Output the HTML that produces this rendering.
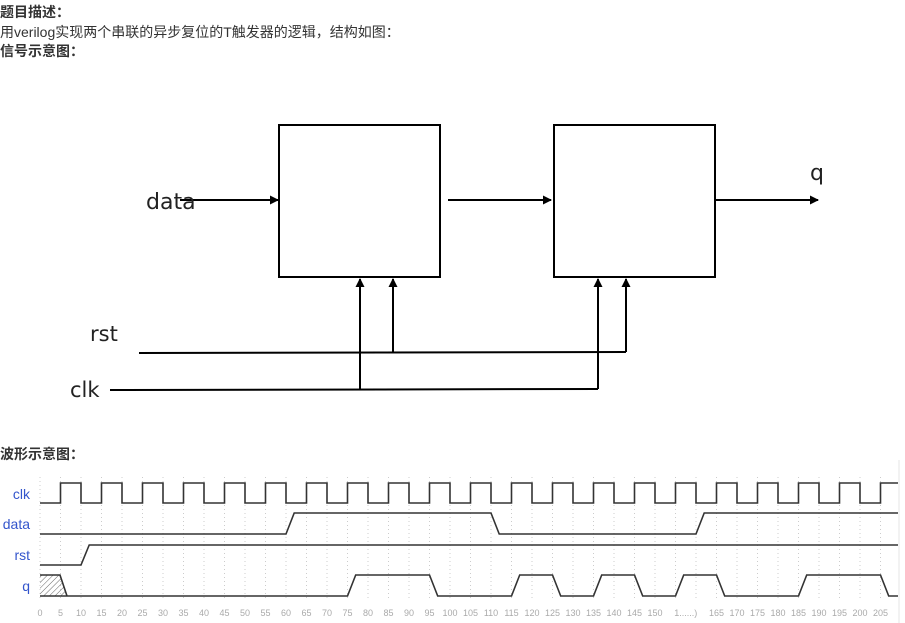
<!DOCTYPE html>
<html><head><meta charset="utf-8"><style>
body{margin:0;width:905px;height:623px;background:#fff;overflow:hidden;position:relative;font-family:"Liberation Sans","Noto Sans CJK SC",sans-serif;}
.t{position:absolute;left:0;font-size:14px;color:#333;line-height:16px;white-space:nowrap}
b{font-weight:bold}
</style></head><body>
<div class="t" style="top:4px"><b>题目描述：</b></div>
<div class="t" style="top:24px">用verilog实现两个串联的异步复位的T触发器的逻辑，结构如图：</div>
<div class="t" style="top:43px"><b>信号示意图：</b></div>
<div class="t" style="top:446px"><b>波形示意图：</b></div>
<svg width="905" height="623" style="position:absolute;left:0;top:0" xmlns="http://www.w3.org/2000/svg">
<defs><marker id="a" markerWidth="9" markerHeight="9" refX="8" refY="4.5" orient="auto" markerUnits="userSpaceOnUse"><path d="M0,0 L9,4.5 L0,9z" fill="#000"/></marker>
<pattern id="h" width="4" height="4" patternUnits="userSpaceOnUse" patternTransform="rotate(45)"><line x1="0" y1="0" x2="0" y2="4" stroke="#666" stroke-width="1"/></pattern></defs>
<g stroke="#000" stroke-width="2" fill="none">
<rect x="279" y="125" width="161" height="152"/>
<rect x="554" y="125" width="161" height="152"/>
<line x1="180" y1="200" x2="278" y2="200" marker-end="url(#a)"/>
<line x1="448" y1="200" x2="551" y2="200" marker-end="url(#a)"/>
<line x1="716" y1="200" x2="818" y2="200" marker-end="url(#a)"/>
<line x1="139" y1="353" x2="626" y2="352"/>
<line x1="110" y1="390" x2="598" y2="389"/>
<line x1="360" y1="390" x2="360" y2="279" marker-end="url(#a)"/>
<line x1="393" y1="353" x2="393" y2="279" marker-end="url(#a)"/>
<line x1="598" y1="389" x2="598" y2="279" marker-end="url(#a)"/>
<line x1="626" y1="352" x2="626" y2="279" marker-end="url(#a)"/>
</g>
<line x1="899" y1="460" x2="899" y2="623" stroke="#e4e4e4" stroke-width="1"/>
<g font-family="'DejaVu Sans',sans-serif" font-size="22" fill="#222">
<text x="146" y="209">data</text>
<text x="810" y="180">q</text>
<text x="90" y="341" font-size="21">rst</text>
<text x="70" y="397" font-size="21">clk</text>
</g>
<g id="grid" stroke="#ccc" stroke-width="1" stroke-dasharray="1,3"></g>
<g font-size="14" fill="#3355cc" text-anchor="end" font-family="'Liberation Sans',sans-serif">
<text x="30" y="499">clk</text><text x="30" y="529">data</text><text x="30" y="560">rst</text><text x="30" y="591">q</text>
</g>
<g id="lbl" font-size="9" fill="#aaa" text-anchor="middle" font-family="'Liberation Sans',sans-serif"></g>
<polygon points="40,575 60,575 67,596 40,596" fill="url(#h)"/>
<g id="w" stroke="#333" stroke-width="1.6" fill="none"></g>
</svg>
<script>
var X=function(t){return 40+t*4.1};
var g=document.getElementById('grid'),l=document.getElementById('lbl'),w=document.getElementById('w');
var s='';var ls='';
for(var t=0;t<=205;t+=5){s+='<line x1="'+X(t)+'" y1="477" x2="'+X(t)+'" y2="600"/>';
if(t!=155&&t!=160)ls+='<text x="'+X(t)+'" y="616">'+t+'</text>';}
ls+='<text x="'+X(157.5)+'" y="616">1......)</text>';
g.innerHTML=s;l.innerHTML=ls;
function wave(ev,lo,hi,init,end){var y=init?hi:lo;var d='M40,'+y;
ev.forEach(function(e){var nx=e[0],v=e[1],r=e[2]||0;d+=' L'+X(nx)+','+y;y=v?hi:lo;d+=' L'+X(nx+r)+','+y;});
d+=' L'+end+','+y;return '<path d="'+d+'"/>';}
var ce=[];for(var t=5;t<=205;t+=5){ce.push([t,(t/5)%2==1]);}
var h='';
h+=wave(ce,503,483,false,898);
h+=wave([[60,1,2],[110,0,2],[160,1,2]],534,513,false,898);
h+=wave([[10,1,2]],565,545,false,898);
h+='<path d="M40,575 L60,575 L67,596"/>';
var qd='M40,596';var q=[[75,95],[115,125],[135,145],[155,165],[185,205]];
q.forEach(function(p){qd+=' L'+X(p[0])+',596 L'+X(p[0]+2)+',575 L'+X(p[1])+',575 L'+X(p[1]+2)+',596';});
qd+=' L898,596';h+='<path d="'+qd+'"/>';
w.innerHTML=h;
</script>
</body></html>
